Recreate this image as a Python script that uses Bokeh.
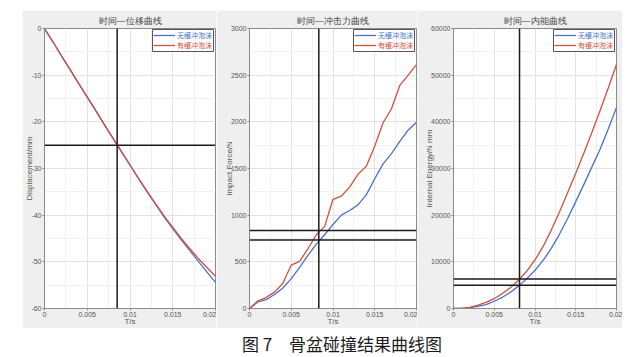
from bokeh.plotting import figure
from bokeh.models import (Range1d, FixedTicker, Span, Legend, LegendItem, Label, Spacer,
                          BoxAnnotation)
from bokeh.layouts import row, column
from bokeh.embed import file_html
from bokeh.resources import INLINE

# ---------------- data ----------------
time_s = [0, 0.001, 0.002, 0.003, 0.004, 0.005, 0.006, 0.007, 0.008, 0.009, 0.010,
          0.011, 0.012, 0.013, 0.014, 0.015, 0.016, 0.017, 0.018, 0.019, 0.020]

series_names = ["无缓冲泡沫", "有缓冲泡沫"]

disp_no_foam = [0, -2.9, -5.9, -8.8, -11.8, -14.7, -17.6, -20.6, -23.5, -26.4, -29.3,
                -32.2, -35.0, -37.7, -40.4, -42.9, -45.3, -47.6, -49.9, -52.2, -54.4]
disp_foam = [0, -2.9, -5.9, -8.8, -11.8, -14.7, -17.6, -20.6, -23.5, -26.4, -29.2,
             -32.1, -34.9, -37.6, -40.2, -42.6, -45.0, -47.2, -49.3, -51.2, -53.1]

force_no_foam = [0, 70, 95, 150, 220, 320, 440, 570, 690, 790, 900,
                 1000, 1050, 1110, 1220, 1390, 1550, 1660, 1790, 1910, 1996]
force_foam = [0, 80, 120, 175, 270, 465, 505, 640, 790, 880, 1170,
              1205, 1300, 1440, 1525, 1740, 1990, 2140, 2390, 2500, 2614]

energy_no_foam = [0, 30, 180, 450, 850, 1550, 2400, 3500, 4850, 6400, 8200,
                  10300, 12900, 15900, 19300, 22900, 26600, 30400, 34200, 38500, 43100]
energy_foam = [0, 40, 250, 700, 1300, 2100, 3200, 4500, 6100, 8000, 10400,
               13300, 16800, 20700, 24800, 29000, 33300, 37800, 42500, 47300, 52300]

x_ticks = [0, 0.005, 0.01, 0.015, 0.02]
x_tick_labels = ["0", "0.005", "0.01", "0.015", "0.02"]
disp_ticks = [-60, -50, -40, -30, -20, -10, 0]
force_ticks = [0, 500, 1000, 1500, 2000, 2500, 3000]
energy_ticks = [0, 10000, 20000, 30000, 40000, 50000, 60000]

cursor_t = [0.0085, 0.0083, 0.0081]
cursor_disp = [-25]
cursor_force = [835, 735]
cursor_energy = [6300, 5000]

titles = ["时间—位移曲线", "时间—冲击力曲线", "时间—内能曲线"]
y_labels = ["Displacement/mm", "Impact Force/N", "Internal Energy/N mm"]
x_label = "T/s"
caption = "图 7\u3000骨盆碰撞结果曲线图"

# ---------------- style ----------------
BLUE = "#4a70cc"
RED = "#d24f3c"
PANEL_BG = "#efefef"
AX = "#8a8a8a"
TXT = "#555555"
CJK = "Noto Sans CJK SC"

FIG_H = 318
BORDER_TOP = 18
BORDER_BOTTOM = 20
FRAME_H = FIG_H - BORDER_TOP - BORDER_BOTTOM
ROW_H = 10
LEG_W = 61
LEG_PAD = 1


def mids(t):
    return [(a + b) / 2 for a, b in zip(t[:-1], t[1:])]


def make_panel(width, left, right, title, ylab, y_no, y_foam, yticks, ct, cys):
    p = figure(width=width, height=FIG_H, output_backend="svg", toolbar_location=None,
               x_range=Range1d(x_ticks[0], x_ticks[-1]),
               y_range=Range1d(yticks[0], yticks[-1]),
               min_border_left=left, min_border_right=right,
               min_border_top=BORDER_TOP, min_border_bottom=18)
    p.border_fill_color = PANEL_BG
    p.background_fill_color = "white"
    p.outline_line_color = AX
    p.title.text = title
    p.title.align = "center"
    p.title.text_font = "Liberation Sans"
    p.title.text_font_size = "9px"
    p.title.text_font_style = "normal"
    p.title.text_color = "#444444"
    p.title.standoff = 6

    p.xaxis.ticker = FixedTicker(ticks=x_ticks, minor_ticks=mids(x_ticks))
    p.yaxis.ticker = FixedTicker(ticks=yticks, minor_ticks=mids(yticks))
    p.xaxis.major_label_overrides = dict(zip(x_ticks, x_tick_labels))
    p.yaxis.major_label_overrides = {v: str(v) for v in yticks}
    p.xaxis.axis_label = x_label
    p.yaxis.axis_label = ylab
    for ax in (p.xaxis[0], p.yaxis[0]):
        ax.axis_line_color = AX
        ax.major_tick_line_color = AX
        ax.major_tick_out = 2
        ax.major_tick_in = 0
        ax.minor_tick_line_color = None
        ax.major_label_text_font = "Liberation Sans"
        ax.major_label_text_font_size = "7px"
        ax.major_label_text_color = TXT
        ax.major_label_standoff = -1
        ax.axis_label_text_font = "Liberation Sans"
        ax.axis_label_text_font_size = "8px"
        ax.axis_label_text_font_style = "normal"
        ax.axis_label_text_color = TXT
    p.xaxis[0].axis_label_standoff = -3
    p.yaxis[0].axis_label_standoff = -6
    for g in (p.xgrid[0], p.ygrid[0]):
        g.grid_line_color = "#e2e2e2"
        g.minor_grid_line_color = "#f1f1f1"

    r_no = p.line(time_s, y_no, line_color=BLUE, line_width=1.3)
    r_foam = p.line(time_s, y_foam, line_color=RED, line_width=1.3)

    p.add_layout(Span(location=ct, dimension="height", line_color="#1a1a1a", line_width=1.5))
    for cy in cys:
        p.add_layout(Span(location=cy, dimension="width", line_color="#1a1a1a", line_width=1.5))

    # legend: a framed box holding two single-row legends (each row its own colour)
    fw = width - left - right
    box_right = fw - 2
    box_left = box_right - LEG_W
    box_top = FRAME_H - 1
    box_bottom = box_top - (2 * LEG_PAD + 2 * ROW_H)
    p.add_layout(BoxAnnotation(left=box_left, right=box_right, top=box_top, bottom=box_bottom,
                               left_units="screen", right_units="screen",
                               top_units="screen", bottom_units="screen",
                               fill_color="white", fill_alpha=1.0,
                               line_color="#555555", line_width=1, line_alpha=1.0))
    common = dict(margin=0, padding=LEG_PAD, spacing=0, border_line_alpha=0,
                  background_fill_alpha=0, glyph_width=22, glyph_height=ROW_H,
                  label_height=ROW_H, label_standoff=2,
                  label_text_font=CJK, label_text_font_size="7px")
    leg_a = Legend(items=[LegendItem(label=series_names[0], renderers=[r_no])],
                   location=(box_left, box_bottom + ROW_H), label_text_color=BLUE, **common)
    leg_b = Legend(items=[LegendItem(label=series_names[1], renderers=[r_foam])],
                   location=(box_left, box_bottom), label_text_color=RED, **common)
    p.add_layout(leg_a)
    p.add_layout(leg_b)
    return p


f1 = make_panel(194, 22, 1, titles[0], y_labels[0], disp_no_foam, disp_foam,
                disp_ticks, cursor_t[0], cursor_disp)
f2 = make_panel(201, 33, 1, titles[1], y_labels[1], force_no_foam, force_foam,
                force_ticks, cursor_t[1], cursor_force)
f3 = make_panel(205, 36, 6, titles[2], y_labels[2], energy_no_foam, energy_foam,
                energy_ticks, cursor_t[2], cursor_energy)

cap = figure(width=637, height=29, output_backend="svg", toolbar_location=None,
             x_range=Range1d(0, 1), y_range=Range1d(0, 1),
             x_axis_location=None, y_axis_location=None, min_border=0)
cap.grid.visible = False
cap.outline_line_color = None
cap.border_fill_color = "white"
cap.add_layout(Label(x=341.5, y=14.5, x_units="screen", y_units="screen", text=caption,
                     text_align="center", text_baseline="middle", text_font=CJK,
                     text_font_size="17px", text_color="#1a1a1a"))

layout = column(Spacer(width=10, height=10),
                row(Spacer(width=22, height=FIG_H), f1, f2, f3),
                cap)

open("out.html", "w").write(file_html(layout, INLINE))
